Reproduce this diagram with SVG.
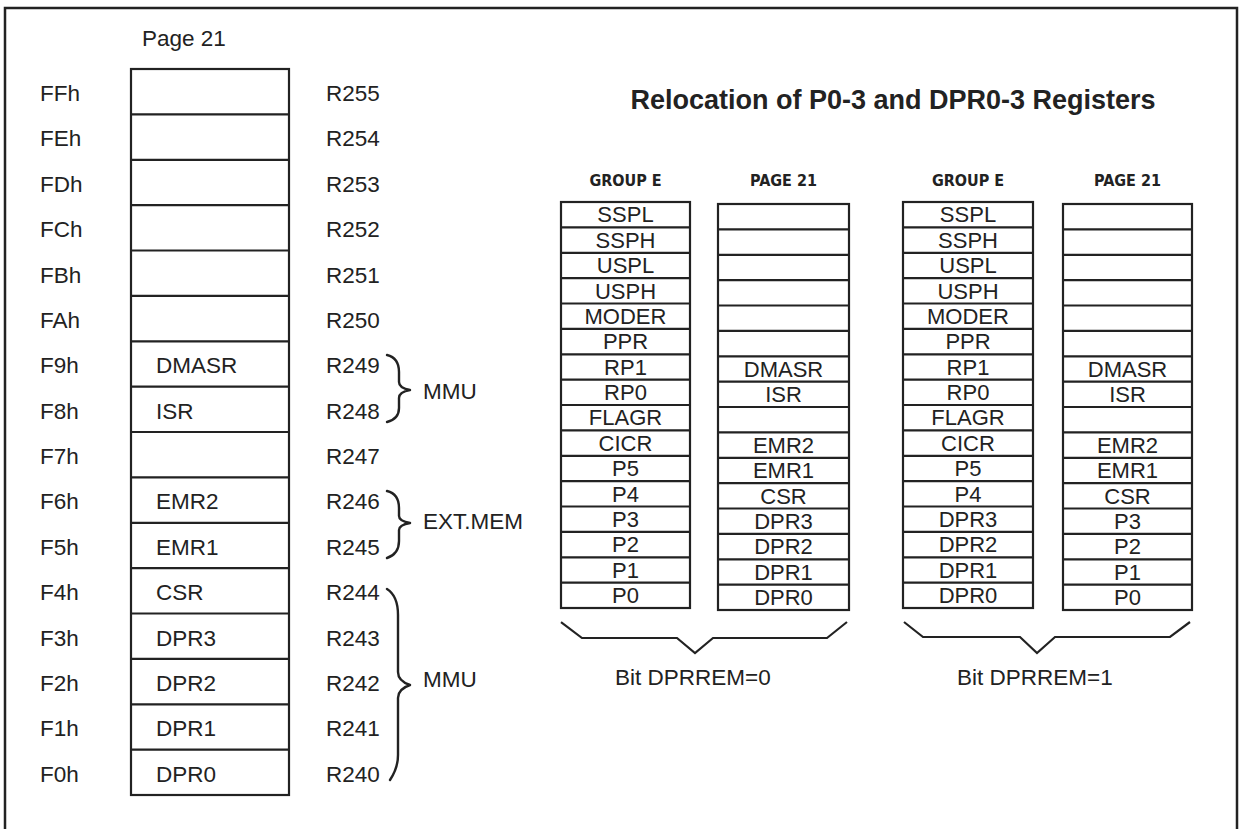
<svg xmlns="http://www.w3.org/2000/svg" width="1240" height="829" viewBox="0 0 1240 829">
<style>
.t{font-family:"Liberation Sans",Arial,sans-serif;font-size:22.5px;fill:#222}
.c{font-family:"Liberation Sans",Arial,sans-serif;font-size:22px;fill:#222;text-anchor:middle}
.h{font-family:"Liberation Sans Narrow","DejaVu Sans Condensed",sans-serif;font-weight:bold;font-size:16px;fill:#222;text-anchor:middle}
.title{font-family:"Liberation Sans",Arial,sans-serif;font-weight:bold;font-size:27px;fill:#222;text-anchor:middle}
.box{fill:#fff;stroke:#222;stroke-width:2.2}
.ln{fill:none;stroke:#222;stroke-width:2.2}
.br{fill:none;stroke:#222;stroke-width:2.4;stroke-linecap:round;stroke-linejoin:round}
</style>
<rect width="1240" height="829" fill="#fff"/>
<path d="M5,829 V8 H1237 V829" fill="none" stroke="#222" stroke-width="2.5"/>

<g id="page21-column">
<text class="t" x="142" y="46">Page 21</text>
<rect class="box" x="131" y="69" width="158" height="726"/>
<path class="ln" d="M131,114.4H289M131,159.8H289M131,205.1H289M131,250.5H289M131,295.9H289M131,341.3H289M131,386.6H289M131,432H289M131,477.4H289M131,522.8H289M131,568.1H289M131,613.5H289M131,658.9H289M131,704.3H289M131,749.6H289"/>
<g class="t">
<text x="40" y="101">FFh</text><text x="40" y="146.4">FEh</text><text x="40" y="191.8">FDh</text><text x="40" y="237.1">FCh</text>
<text x="40" y="282.5">FBh</text><text x="40" y="327.9">FAh</text><text x="40" y="373.3">F9h</text><text x="40" y="418.6">F8h</text>
<text x="40" y="464">F7h</text><text x="40" y="509.4">F6h</text><text x="40" y="554.8">F5h</text><text x="40" y="600.1">F4h</text>
<text x="40" y="645.5">F3h</text><text x="40" y="690.9">F2h</text><text x="40" y="736.3">F1h</text><text x="40" y="781.6">F0h</text>
<text x="156" y="373.3">DMASR</text><text x="156" y="418.6">ISR</text>
<text x="156" y="509.4">EMR2</text><text x="156" y="554.8">EMR1</text><text x="156" y="600.1">CSR</text>
<text x="156" y="645.5">DPR3</text><text x="156" y="690.9">DPR2</text><text x="156" y="736.3">DPR1</text><text x="156" y="781.6">DPR0</text>
<text x="326" y="101">R255</text><text x="326" y="146.4">R254</text><text x="326" y="191.8">R253</text><text x="326" y="237.1">R252</text>
<text x="326" y="282.5">R251</text><text x="326" y="327.9">R250</text><text x="326" y="373.3">R249</text><text x="326" y="418.6">R248</text>
<text x="326" y="464">R247</text><text x="326" y="509.4">R246</text><text x="326" y="554.8">R245</text><text x="326" y="600.1">R244</text>
<text x="326" y="645.5">R243</text><text x="326" y="690.9">R242</text><text x="326" y="736.3">R241</text><text x="326" y="781.6">R240</text>
</g>
</g>

<g id="braces-left">
<path class="br" d="M387,355 Q399,358 399,372 V382 Q399,388 410,390 Q399,392 399,398 V408 Q399,419 387,422"/>
<path class="br" d="M387,491 Q399,494 399,508 V516 Q399,521 410,523 Q399,525 399,530 V541 Q399,554 387,558"/>
<path class="br" d="M387,589 Q398,596 398,615 V672 Q398,681 410,685 Q398,689 398,698 V755 Q398,768 390,780"/>
<text class="t" x="423" y="399">MMU</text>
<text class="t" x="423" y="529">EXT.MEM</text>
<text class="t" x="423" y="687">MMU</text>
</g>

<text class="title" x="893" y="109">Relocation of P0-3 and DPR0-3 Registers</text>

<g id="table-groupE-0">
<text class="h" x="625.5" y="186">GROUP E</text>
<rect class="box" x="561" y="202" width="129" height="406"/>
<path class="ln" d="M561,227.4H690M561,252.8H690M561,278.1H690M561,303.5H690M561,328.9H690M561,354.3H690M561,379.6H690M561,405H690M561,430.4H690M561,455.8H690M561,481.1H690M561,506.5H690M561,531.9H690M561,557.3H690M561,582.6H690"/>
<g class="c">
<text x="625.5" y="222.4">SSPL</text><text x="625.5" y="247.8">SSPH</text><text x="625.5" y="273.1">USPL</text><text x="625.5" y="298.5">USPH</text>
<text x="625.5" y="323.9">MODER</text><text x="625.5" y="349.3">PPR</text><text x="625.5" y="374.6">RP1</text><text x="625.5" y="400">RP0</text>
<text x="625.5" y="425.4">FLAGR</text><text x="625.5" y="450.8">CICR</text><text x="625.5" y="476.1">P5</text><text x="625.5" y="501.5">P4</text>
<text x="625.5" y="526.9">P3</text><text x="625.5" y="552.3">P2</text><text x="625.5" y="577.6">P1</text><text x="625.5" y="603">P0</text>
</g>
</g>

<g id="table-page21-0">
<text class="h" x="783.5" y="186">PAGE 21</text>
<rect class="box" x="718" y="204" width="131" height="406"/>
<path class="ln" d="M718,229.4H849M718,254.8H849M718,280.1H849M718,305.5H849M718,330.9H849M718,356.3H849M718,381.6H849M718,407H849M718,432.4H849M718,457.8H849M718,483.1H849M718,508.5H849M718,533.9H849M718,559.3H849M718,584.6H849"/>
<g class="c">
<text x="783.5" y="376.6">DMASR</text><text x="783.5" y="402">ISR</text>
<text x="783.5" y="452.8">EMR2</text><text x="783.5" y="478.1">EMR1</text><text x="783.5" y="503.5">CSR</text>
<text x="783.5" y="528.9">DPR3</text><text x="783.5" y="554.3">DPR2</text><text x="783.5" y="579.6">DPR1</text><text x="783.5" y="605">DPR0</text>
</g>
</g>

<g id="table-groupE-1">
<text class="h" x="968" y="186">GROUP E</text>
<rect class="box" x="903" y="202" width="130" height="406"/>
<path class="ln" d="M903,227.4H1033M903,252.8H1033M903,278.1H1033M903,303.5H1033M903,328.9H1033M903,354.3H1033M903,379.6H1033M903,405H1033M903,430.4H1033M903,455.8H1033M903,481.1H1033M903,506.5H1033M903,531.9H1033M903,557.3H1033M903,582.6H1033"/>
<g class="c">
<text x="968" y="222.4">SSPL</text><text x="968" y="247.8">SSPH</text><text x="968" y="273.1">USPL</text><text x="968" y="298.5">USPH</text>
<text x="968" y="323.9">MODER</text><text x="968" y="349.3">PPR</text><text x="968" y="374.6">RP1</text><text x="968" y="400">RP0</text>
<text x="968" y="425.4">FLAGR</text><text x="968" y="450.8">CICR</text><text x="968" y="476.1">P5</text><text x="968" y="501.5">P4</text>
<text x="968" y="526.9">DPR3</text><text x="968" y="552.3">DPR2</text><text x="968" y="577.6">DPR1</text><text x="968" y="603">DPR0</text>
</g>
</g>

<g id="table-page21-1">
<text class="h" x="1127.5" y="186">PAGE 21</text>
<rect class="box" x="1063" y="204" width="129" height="406"/>
<path class="ln" d="M1063,229.4H1192M1063,254.8H1192M1063,280.1H1192M1063,305.5H1192M1063,330.9H1192M1063,356.3H1192M1063,381.6H1192M1063,407H1192M1063,432.4H1192M1063,457.8H1192M1063,483.1H1192M1063,508.5H1192M1063,533.9H1192M1063,559.3H1192M1063,584.6H1192"/>
<g class="c">
<text x="1127.5" y="376.6">DMASR</text><text x="1127.5" y="402">ISR</text>
<text x="1127.5" y="452.8">EMR2</text><text x="1127.5" y="478.1">EMR1</text><text x="1127.5" y="503.5">CSR</text>
<text x="1127.5" y="528.9">P3</text><text x="1127.5" y="554.3">P2</text><text x="1127.5" y="579.6">P1</text><text x="1127.5" y="605">P0</text>
</g>
</g>

<g id="brace-dprrem-0">
<path class="ln" d="M561,622 L582,638 H677 L695,653 L713,638 H827 L847,622"/>
<text class="t" x="615" y="685">Bit DPRREM=0</text>
</g>
<g id="brace-dprrem-1">
<path class="ln" d="M904,622 L923,637 H1020 L1037,653 L1055,637 H1170 L1190,622"/>
<text class="t" x="957" y="685">Bit DPRREM=1</text>
</g>
</svg>
